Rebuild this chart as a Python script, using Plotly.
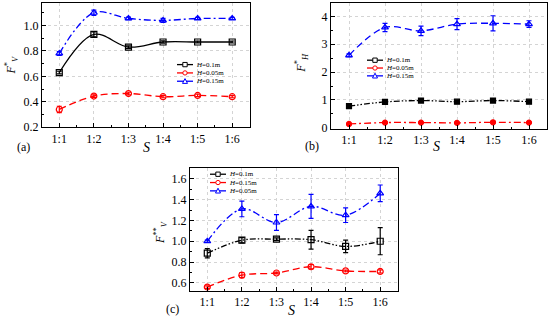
import plotly.graph_objects as go

# ---------------- data ----------------
S = ["1:1", "1:2", "1:3", "1:4", "1:5", "1:6"]

# (a) F*_V
a_h01 = [0.63, 0.93, 0.83, 0.87, 0.87, 0.87]
a_h01_err = [0.01, 0.02, 0.01, 0.01, 0.008, 0.008]
a_h005 = [0.34, 0.445, 0.465, 0.44, 0.45, 0.44]
a_h005_err = [0.025, 0.01, 0.01, 0.008, 0.01, 0.008]
a_h015 = [0.78, 1.10, 1.055, 1.04, 1.055, 1.055]
a_h015_err = [0.015, 0.02, 0.01, 0.015, 0.008, 0.008]

# (b) F*_H
b_h01 = [0.78, 0.93, 0.98, 0.94, 0.98, 0.94]
b_h01_err = [0.03, 0.03, 0.03, 0.03, 0.03, 0.03]
b_h005 = [0.14, 0.19, 0.19, 0.18, 0.20, 0.19]
b_h005_err = [0.03, 0.03, 0.03, 0.03, 0.03, 0.03]
b_h015 = [2.60, 3.60, 3.48, 3.72, 3.75, 3.72]
b_h015_err = [0.05, 0.15, 0.17, 0.20, 0.27, 0.12]

# (c) F**_V
c_h01 = [0.885, 1.01, 1.02, 1.015, 0.95, 1.0]
c_h01_err = [0.045, 0.025, 0.012, 0.09, 0.06, 0.13]
c_h015 = [0.56, 0.675, 0.695, 0.755, 0.715, 0.71]
c_h015_err = [0.012, 0.025, 0.008, 0.02, 0.008, 0.015]
c_h005 = [1.0, 1.31, 1.18, 1.335, 1.25, 1.46]
c_h005_err = [0.01, 0.075, 0.075, 0.115, 0.07, 0.08]

x = list(range(1, len(S) + 1))

BLACK = "#000000"
RED = "#ff0000"
BLUE = "#0000ff"
FONT = "Liberation Serif, Times New Roman, serif"
W, H = 550, 330

DASHDOT = "7px,3px,2px,3px"
DASHDOTDOT = "6px,2px,1.5px,2px,1.5px,2px"
DASH = "7px,4px"
GRID = "#d4d4d4"


def px(xp):
    return xp / W


def py(yp):
    return 1 - yp / H


fig = go.Figure()


def add(y, err, color, dash, symbol, xa, ya, msize=6):
    fig.add_trace(go.Scatter(
        x=x, y=y, mode="lines+markers", xaxis=xa, yaxis=ya,
        line=dict(color=color, width=1.3, dash=dash, shape="spline", smoothing=1.0),
        marker=dict(symbol=symbol, size=msize, color=color,
                    line=dict(color=color, width=1.2)),
        error_y=dict(type="data", array=err, visible=True, color=color,
                     thickness=1.2, width=2.5),
        showlegend=False, hoverinfo="skip"))


# (a)
add(a_h01, a_h01_err, BLACK, "solid", "square-open", "x", "y")
add(a_h005, a_h005_err, RED, DASH, "circle-open", "x", "y")
add(a_h015, a_h015_err, BLUE, DASHDOT, "triangle-up-open", "x", "y")
# (b)
add(b_h01, b_h01_err, BLACK, DASHDOTDOT, "square", "x2", "y2", 5)
add(b_h005, b_h005_err, RED, DASHDOT, "circle", "x2", "y2", 5)
add(b_h015, b_h015_err, BLUE, DASH, "triangle-up-open", "x2", "y2")
# (c)
add(c_h01, c_h01_err, BLACK, DASHDOTDOT, "square-open", "x3", "y3")
add(c_h015, c_h015_err, RED, DASH, "circle-open", "x3", "y3")
add(c_h005, c_h005_err, BLUE, DASHDOT, "triangle-up-open", "x3", "y3")

tickfont = dict(family=FONT, size=12, color="black")


def xaxis(domain, anchor):
    return dict(domain=domain, anchor=anchor, range=[0.5, 6.5],
                tickmode="array", tickvals=x, ticktext=S, tickfont=tickfont,
                ticks="inside", ticklen=4, tickcolor="black",
                showline=True, linecolor="black", linewidth=1, mirror=True,
                showgrid=True, gridcolor=GRID, griddash="dot", gridwidth=1,
                zeroline=False, fixedrange=True,
                minor=dict(dtick=0.5, tick0=0.5, ticks="inside", ticklen=2,
                           tickcolor="black", showgrid=False))


def yaxis(domain, anchor, rng, dtick, minor):
    return dict(domain=domain, anchor=anchor, range=rng, dtick=dtick,
                tickfont=tickfont, tickformat=".1f" if dtick < 1 else "d",
                ticks="inside", ticklen=4, tickcolor="black",
                showline=True, linecolor="black", linewidth=1, mirror=True,
                showgrid=True, gridcolor=GRID, griddash="dot", gridwidth=1,
                zeroline=False, fixedrange=True,
                minor=dict(dtick=minor, ticks="inside", ticklen=2,
                           tickcolor="black", showgrid=False))


fig.update_layout(
    width=W, height=H, margin=dict(l=0, r=0, t=0, b=0),
    paper_bgcolor="white", plot_bgcolor="white",
    font=dict(family=FONT, color="black"),
    xaxis=xaxis([px(42), px(249.5)], "y"),
    yaxis=yaxis([py(130), py(3)], "x", [0.2, 1.177], 0.2, 0.1),
    xaxis2=xaxis([px(331), px(547)], "y2"),
    yaxis2=yaxis([py(131.5), py(2.7)], "x2", [-0.03, 4.49], 1, 0.5),
    xaxis3=xaxis([px(190), px(397.5)], "y3"),
    yaxis3=yaxis([py(297), py(172)], "x3", [0.525, 1.7], 0.2, 0.1),
)

annotations = []
shapes = []


def text(xp, yp, t, size=12, angle=0, anchor="center"):
    annotations.append(dict(x=px(xp), y=py(yp), xref="paper", yref="paper",
                            text=t, showarrow=False, textangle=angle,
                            xanchor=anchor, yanchor="middle",
                            font=dict(family=FONT, size=size, color="black")))


# axis titles and panel labels
text(12, 67, "<i>F</i><sup>*</sup><sub><i>V</i></sub>", 12, -90)
text(302, 64, "<i>F</i><sup>*</sup><sub><i>H</i></sub>", 12, -90)
text(161, 238, "<i>F</i><sup>**</sup><sub><i>V</i></sub>", 12, -90)
text(146, 151, "<i>S</i>", 14)
text(436, 150, "<i>S</i>", 14)
text(291, 317, "<i>S</i>", 14)
text(23, 150, "(a)", 12)
text(312, 149, "(b)", 12)
text(172, 316, "(c)", 12)


def legend(x0, rows, entries):
    for yrow, (label, color, symbol, filled) in zip(rows, entries):
        shapes.append(dict(type="line", xref="paper", yref="paper",
                           x0=px(x0), x1=px(x0 + 16), y0=py(yrow), y1=py(yrow),
                           line=dict(color=color, width=1.3)))
        cx = x0 + 8
        r = 2.2
        fill = color if filled else "white"
        if symbol == "square":
            shapes.append(dict(type="rect", xref="paper", yref="paper",
                               x0=px(cx - r), x1=px(cx + r), y0=py(yrow + r), y1=py(yrow - r),
                               line=dict(color=color, width=1), fillcolor=fill))
        elif symbol == "circle":
            shapes.append(dict(type="circle", xref="paper", yref="paper",
                               x0=px(cx - r), x1=px(cx + r), y0=py(yrow + r), y1=py(yrow - r),
                               line=dict(color=color, width=1), fillcolor=fill))
        else:
            path = "M {} {} L {} {} L {} {} Z".format(
                px(cx - r - 0.3), py(yrow + r), px(cx + r + 0.3), py(yrow + r),
                px(cx), py(yrow - r - 0.5))
            shapes.append(dict(type="path", xref="paper", yref="paper", path=path,
                               line=dict(color=color, width=1), fillcolor=fill))
        annotations.append(dict(x=px(x0 + 17.5), y=py(yrow), xref="paper", yref="paper",
                                text=label, showarrow=False, xanchor="left",
                                yanchor="middle", borderpad=0,
                                font=dict(family=FONT, size=7, color="black")))


legend(177, [66, 74.5, 83], [
    ("<i>H</i>=0.1m", BLACK, "square", False),
    ("<i>H</i>=0.05m", RED, "circle", False),
    ("<i>H</i>=0.15m", BLUE, "triangle", False)])
legend(367, [61.5, 69.5, 77.5], [
    ("<i>H</i>=0.1m", BLACK, "square", False),
    ("<i>H</i>=0.05m", RED, "circle", False),
    ("<i>H</i>=0.15m", BLUE, "triangle", False)])
legend(210, [178, 186.5, 195], [
    ("<i>H</i>=0.1m", BLACK, "square", False),
    ("<i>H</i>=0.15m", RED, "circle", False),
    ("<i>H</i>=0.05m", BLUE, "triangle", False)])

fig.update_layout(annotations=annotations, shapes=shapes)

# remove the default 8px page margin so the figure sits at the window's corner
fig.write_html("out.html",
               config={"displayModeBar": False, "staticPlot": True},
               post_script="document.body.style.margin='0';")
